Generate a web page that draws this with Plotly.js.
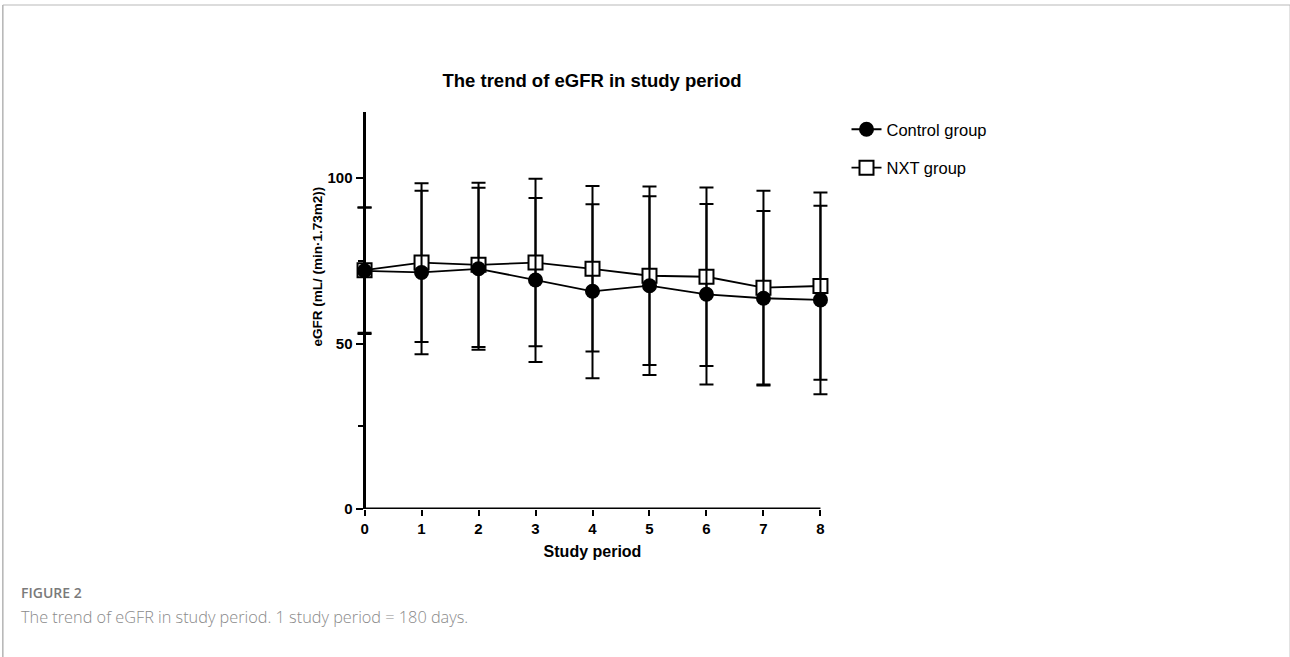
<!DOCTYPE html>
<html>
<head>
<meta charset="utf-8">
<script src="https://cdn.plot.ly/plotly-3.0.1.min.js"></script>
<style>
html,body{margin:0;padding:0;background:#fff;}
#chart{width:1290px;height:657px;}
</style>
</head>
<body>
<div id="chart"></div>
<script>
var periods = [0, 1, 2, 3, 4, 5, 6, 7, 8];
var controlMean = [72.0, 71.5, 72.6, 69.2, 65.8, 67.5, 64.9, 63.7, 63.2];
var controlSD   = [19.1, 24.7, 24.5, 24.8, 26.3, 27.0, 27.3, 26.4, 28.5];
var nxtMean     = [72.2, 74.5, 73.8, 74.5, 72.6, 70.5, 70.2, 66.9, 67.4];
var nxtSD       = [18.9, 24.0, 24.8, 25.3, 25.0, 27.0, 27.0, 29.3, 28.3];
var xTickLabels = ["0", "1", "2", "3", "4", "5", "6", "7", "8"];
var yTickVals = [0, 50, 100];

var W = 1290, H = 657;
var X0 = 365, X8 = 820, T = 112, B = 509;
var pad = 0.15;                       // extra x range so error caps at the ends are not clipped
var unit = (X8 - X0) / 8;
var L = X0 - pad * unit, R = X8 + pad * unit;
function px(x){ return (x - L) / (R - L); }
function py(y){ return (B - y) / (B - T); }

var nxtTrace = {
  x: periods, y: nxtMean, name: "NXT group", type: "scatter", mode: "lines+markers",
  legendrank: 2, legendgroup: "b", cliponaxis: false,
  line: {color: "#000", width: 1.8},
  marker: {symbol: "square", size: 14, color: "#fff", line: {color: "#000", width: 2}},
  error_y: {type: "data", array: nxtSD, visible: true, color: "#000", thickness: 2, width: 7}
};
var controlTrace = {
  x: periods, y: controlMean, name: "Control group", type: "scatter", mode: "lines+markers",
  legendrank: 1, legendgroup: "a", cliponaxis: false,
  line: {color: "#000", width: 1.8},
  marker: {symbol: "circle", size: 15, color: "#000", line: {color: "#000", width: 0}},
  error_y: {type: "data", array: controlSD, visible: true, color: "#000", thickness: 2, width: 7}
};

var FAM = "Liberation Sans, Arial, sans-serif";
var tickFont = {family: FAM, size: 15, color: "#000", weight: "bold"};

var layout = {
  width: W, height: H,
  margin: {l: L, r: W - R, t: T, b: H - B, pad: 0},
  paper_bgcolor: "#fff", plot_bgcolor: "#fff",
  showlegend: true,
  title: {
    text: "<b>The trend of eGFR in study period</b>",
    font: {family: FAM, size: 18.5, color: "#000"},
    x: 592 / W, xanchor: "center", xref: "container",
    y: 1 - 81 / H, yanchor: "middle", yref: "container"
  },
  xaxis: {
    range: [-pad, 8 + pad], tickvals: periods, ticktext: xTickLabels,
    showline: false,
    ticks: "outside", ticklen: 6, tickwidth: 2, tickcolor: "#000",
    showgrid: false, zeroline: false, tickfont: tickFont,
    title: {text: "<b>Study period</b>", font: {family: FAM, size: 16, color: "#000"}, standoff: 9}
  },
  yaxis: {
    range: [0, 120], tickvals: yTickVals,
    anchor: "free", position: px(X0 - 1),
    showline: true, linecolor: "#000", linewidth: 3,
    ticks: "outside", ticklen: 7, tickwidth: 2, tickcolor: "#000",
    minor: {tickvals: [25, 75], ticks: "outside", ticklen: 5, tickwidth: 2, tickcolor: "#000", showgrid: false},
    showgrid: false, zeroline: false, tickfont: tickFont
  },
  legend: {
    x: px(846), y: py(112), xanchor: "left", yanchor: "top",
    font: {family: FAM, size: 16.5, color: "#000"},
    tracegroupgap: 14, traceorder: "grouped", itemwidth: 30,
    bgcolor: "rgba(0,0,0,0)"
  },
  annotations: [
    {text: "<b>eGFR (mL/ (min·1.73m2))</b>", xref: "paper", yref: "paper",
     x: px(318), y: py(266), xanchor: "center", yanchor: "middle", textangle: -90,
     showarrow: false, font: {family: FAM, size: 13.5, color: "#000"}},
    {text: "FIGURE 2", xref: "paper", yref: "paper", x: px(20), y: py(592),
     xanchor: "left", yanchor: "middle", showarrow: false,
     font: {family: "Open Sans, sans-serif", size: 14, color: "#7a7a7a", weight: 600}},
    {text: "The trend of eGFR in study period. 1 study period = 180 days.", xref: "paper", yref: "paper",
     x: px(20), y: py(617), xanchor: "left", yanchor: "middle", showarrow: false,
     font: {family: "Open Sans, sans-serif", size: 16.3, color: "#8a8a8a", weight: 300}}
  ],
  shapes: [
    {type: "line", xref: "x", yref: "y", x0: 0, x1: 8, y0: 0, y1: 0, line: {color: "#000", width: 3}},
    {type: "line", xref: "paper", yref: "paper", x0: px(4), x1: px(1289), y0: py(5), y1: py(5), line: {color: "#dcdcdc", width: 2}},
    {type: "line", xref: "paper", yref: "paper", x0: px(4), x1: px(4), y0: py(5), y1: py(657), line: {color: "#b4b4b4", width: 1.5}},
    {type: "line", xref: "paper", yref: "paper", x0: px(1289), x1: px(1289), y0: py(5), y1: py(657), line: {color: "#b4b4b4", width: 1.5}}
  ]
};

Plotly.newPlot("chart", [nxtTrace, controlTrace], layout, {displayModeBar: false, staticPlot: true});
</script>
</body>
</html>
